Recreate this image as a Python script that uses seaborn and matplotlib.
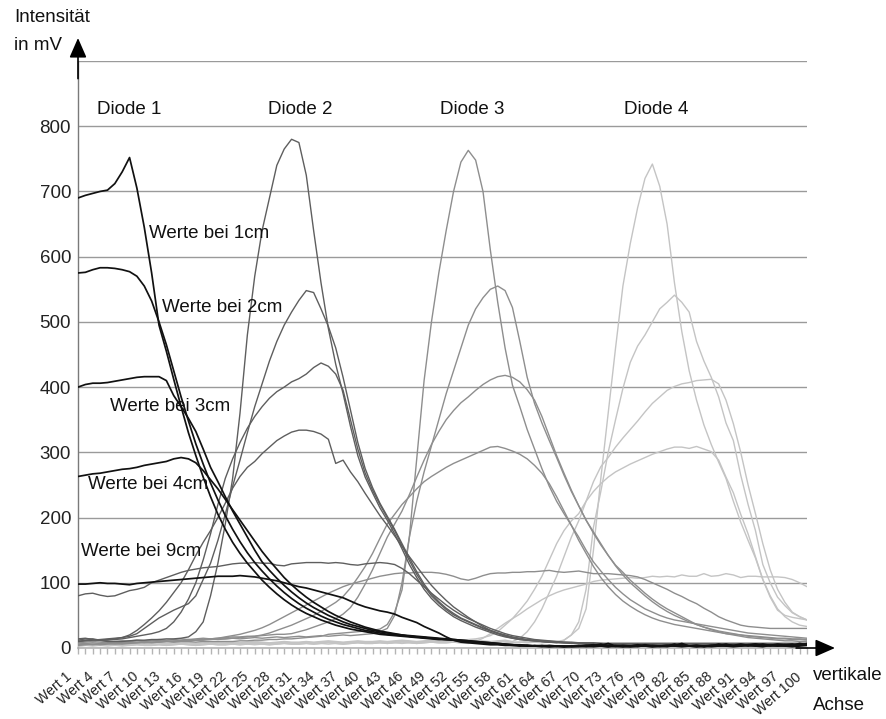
import matplotlib
matplotlib.use("Agg")
import matplotlib.pyplot as plt
import matplotlib.transforms as mtransforms
import pandas as pd
import seaborn as sns

# ---------------- data ----------------
categories = [f"Wert {k}" for k in range(1, 101)]
tick_labels = categories[::3]           # Wert 1, Wert 4, ... Wert 100
y_ticks = [0, 100, 200, 300, 400, 500, 600, 700, 800, 900]
y_tick_labels = ["0", "100", "200", "300", "400", "500", "600", "700", "800", ""]
diodes = ["Diode 1", "Diode 2", "Diode 3", "Diode 4"]
distances = ["1cm", "2cm", "3cm", "4cm", "9cm"]

# Diode 1 (black)
d1_1cm = [690, 694, 697, 700, 702, 712, 730, 752, 705, 645,
          575, 495, 455, 412, 370, 330, 295, 262, 232, 205,
          182, 162, 145, 130, 117, 104, 93, 83, 74, 66,
          59, 53, 48, 43, 39, 35, 32, 29, 27, 25,
          23, 21, 20, 19, 18, 17, 16, 15, 14, 13,
          13, 12, 11, 10, 9, 8, 7, 6, 5, 4,
          4, 3, 3, 4, 3, 2, 3, 2, 2, 3,
          4, 6, 3, 2, 3, 2, 3, 5, 3, 2,
          3, 6, 3, 3, 2, 3, 4, 3, 5, 4,
          3, 5, 6, 4, 3, 4, 5, 4, 6, 5]
d1_2cm = [575, 576, 580, 583, 583, 582, 580, 577, 570, 555,
          532, 500, 465, 425, 385, 348, 313, 282, 253, 227,
          203, 182, 163, 146, 131, 118, 106, 95, 85, 76,
          68, 61, 55, 49, 44, 40, 36, 33, 30, 27,
          25, 23, 21, 20, 19, 18, 17, 16, 15, 14,
          13, 12, 11, 10, 9, 8, 7, 6, 5, 5,
          4, 3, 4, 3, 2, 3, 2, 3, 3, 2,
          3, 4, 7, 3, 2, 3, 4, 3, 2, 3,
          4, 3, 5, 3, 2, 3, 3, 4, 6, 3,
          4, 3, 5, 6, 4, 3, 5, 6, 4, 7]
d1_3cm = [400, 404, 406, 406, 407, 409, 411, 413, 415, 416,
          416, 416, 410, 387, 370, 352, 332, 305, 277, 255,
          232, 210, 190, 170, 150, 132, 119, 107, 96, 86,
          77, 69, 62, 56, 50, 45, 40, 36, 33, 30,
          27, 25, 23, 21, 20, 18, 17, 16, 15, 14,
          13, 13, 12, 11, 10, 9, 8, 7, 6, 5,
          4, 4, 3, 3, 2, 3, 3, 2, 3, 4,
          5, 3, 2, 3, 4, 3, 2, 4, 3, 3,
          2, 4, 7, 3, 3, 2, 4, 5, 3, 4,
          6, 4, 3, 5, 4, 6, 5, 3, 5, 6]
d1_4cm = [263, 265, 267, 268, 270, 272, 274, 275, 277, 280,
          282, 284, 286, 290, 292, 290, 284, 272, 258, 244,
          228, 212, 196, 180, 164, 148, 134, 121, 108, 97,
          87, 78, 70, 63, 56, 50, 45, 40, 36, 32,
          29, 26, 24, 22, 20, 19, 18, 17, 16, 15,
          14, 13, 12, 11, 10, 9, 8, 7, 6, 5,
          5, 4, 3, 3, 4, 3, 2, 3, 4, 3,
          2, 3, 4, 3, 2, 3, 5, 3, 4, 3,
          3, 5, 4, 3, 4, 2, 3, 6, 4, 3,
          5, 4, 6, 3, 4, 5, 3, 4, 7, 5]
d1_9cm = [98, 98, 99, 100, 99, 99, 98, 97, 99, 100,
          101, 102, 103, 104, 105, 106, 107, 108, 109, 110,
          110, 110, 111, 110, 109, 107, 105, 103, 100, 97,
          94, 92, 89, 86, 83, 80, 77, 72, 67, 63,
          60, 57, 55, 52, 47, 43, 39, 33, 28, 23,
          17, 12, 9, 8, 7, 6, 5, 5, 4, 4,
          3, 4, 3, 2, 3, 3, 2, 3, 3, 4,
          3, 3, 2, 4, 3, 2, 3, 3, 2, 3,
          4, 3, 2, 3, 4, 3, 2, 3, 3, 2,
          3, 4, 3, 2, 4, 3, 3, 2, 3, 4]

# Diode 2 (dark grey)
d2_1cm = [12, 14, 14, 12, 10, 10, 10, 11, 12, 12,
          13, 13, 14, 14, 15, 17, 25, 40, 80, 130,
          190, 260, 360, 480, 570, 640, 690, 740, 765, 780,
          775, 725, 640, 560, 490, 435, 390, 340, 295, 262,
          238, 215, 196, 175, 152, 128, 108, 90, 76, 65,
          56, 48, 42, 37, 32, 28, 24, 20, 17, 15,
          13, 12, 11, 10, 9, 9, 8, 8, 7, 7,
          7, 6, 6, 6, 6, 5, 5, 5, 5, 5,
          5, 5, 5, 5, 4, 4, 4, 4, 4, 4,
          4, 4, 4, 4, 4, 4, 4, 4, 4, 4]
d2_2cm = [10, 12, 13, 12, 13, 14, 16, 18, 22, 30,
          38, 46, 52, 58, 63, 68, 80, 105, 130, 165,
          205, 248, 288, 330, 370, 405, 440, 470, 495, 515,
          533, 548, 545, 520, 493, 460, 415, 365, 315, 275,
          246, 222, 202, 182, 160, 138, 117, 98, 83, 71,
          61, 53, 46, 41, 36, 31, 27, 23, 19, 16,
          14, 12, 11, 10, 9, 9, 8, 8, 7, 7,
          7, 7, 6, 6, 6, 6, 6, 5, 5, 5,
          5, 5, 5, 5, 5, 5, 5, 5, 5, 5,
          5, 5, 5, 5, 5, 5, 5, 5, 5, 5]
d2_3cm = [14, 15, 13, 12, 12, 13, 14, 16, 18, 20,
          22, 25, 30, 40, 55, 75, 100, 135, 175, 220,
          260, 290, 315, 337, 355, 370, 383, 393, 400, 408,
          413, 420, 430, 437, 432, 420, 395, 350, 305, 268,
          242, 220, 200, 180, 157, 134, 113, 95, 80, 69,
          59, 51, 45, 40, 35, 30, 26, 22, 18, 15,
          13, 12, 11, 10, 9, 8, 8, 7, 7, 6,
          6, 6, 6, 6, 6, 6, 6, 6, 6, 6,
          6, 6, 6, 6, 6, 6, 6, 6, 6, 6,
          6, 6, 6, 6, 6, 6, 6, 6, 6, 6]
d2_4cm = [10, 11, 12, 13, 14, 15, 16, 20, 27, 36,
          46, 57, 70, 85, 100, 120, 142, 162, 180, 200,
          222, 245, 263, 277, 286, 298, 308, 318, 325, 331,
          334, 334, 332, 328, 320, 283, 288, 270, 255, 237,
          220, 203, 188, 172, 156, 140, 125, 110, 96, 84,
          73, 63, 55, 47, 40, 33, 27, 23, 20, 17,
          15, 13, 12, 11, 10, 9, 9, 8, 8, 7,
          7, 7, 7, 7, 7, 7, 7, 7, 7, 7,
          7, 7, 7, 7, 7, 7, 7, 7, 7, 7,
          7, 7, 7, 7, 7, 7, 7, 7, 7, 7]
d2_9cm = [80, 83, 84, 81, 79, 80, 84, 88, 90, 93,
          100, 104, 108, 112, 116, 119, 121, 123, 124, 125,
          127, 129, 130, 130, 131, 130, 130, 127, 126, 129,
          130, 131, 131, 131, 130, 131, 130, 128, 127, 129,
          130, 131, 130, 128, 122, 114, 104, 94, 84, 75,
          66, 58, 51, 45, 40, 35, 30, 26, 22, 19,
          17, 15, 13, 12, 11, 10, 9, 9, 8, 8,
          8, 7, 7, 7, 7, 7, 7, 7, 7, 7,
          7, 7, 7, 7, 7, 7, 7, 7, 7, 7,
          7, 7, 7, 7, 7, 7, 7, 7, 7, 7]

# Diode 3 (medium grey)
d3_1cm = [6, 7, 8, 7, 8, 9, 8, 9, 9, 8,
          9, 9, 10, 9, 10, 10, 9, 10, 10, 10,
          10, 10, 11, 11, 12, 12, 13, 13, 14, 14,
          15, 16, 17, 18, 21, 22, 23, 24, 25, 26,
          27, 29, 36, 55, 89, 170, 290, 410, 500, 575,
          640, 700, 745, 763, 748, 700, 610, 530, 460, 403,
          370, 335, 305, 275, 248, 225, 206, 188, 170, 150,
          132, 118, 105, 93, 83, 74, 67, 60, 55, 50,
          46, 43, 41, 39, 37, 35, 33, 31, 29, 27,
          25, 23, 22, 21, 20, 19, 18, 17, 16, 15]
d3_2cm = [8, 9, 10, 9, 8, 10, 11, 10, 9, 10,
          11, 12, 11, 10, 12, 13, 12, 13, 14, 13,
          14, 15, 14, 15, 16, 15, 16, 17, 16, 17,
          18, 17, 18, 19, 18, 19, 20, 19, 20, 21,
          22, 25, 30, 50, 100, 170, 225, 270, 310, 350,
          390, 425, 460, 495, 520, 537, 550, 555, 548, 522,
          470, 415, 375, 345, 318, 292, 265, 240, 218, 196,
          176, 158, 142, 127, 116, 104, 94, 84, 75, 67,
          60, 54, 48, 42, 36, 32, 28, 25, 22, 20,
          18, 16, 15, 14, 13, 12, 11, 11, 10, 10]
d3_3cm = [10, 11, 12, 11, 10, 9, 10, 11, 12, 11,
          12, 13, 12, 13, 14, 13, 14, 15, 14, 15,
          16, 17, 17, 18, 18, 19, 20, 21, 21, 22,
          25, 28, 32, 36, 40, 45, 52, 62, 78, 98,
          120, 145, 170, 190, 210, 235, 262, 288, 312, 332,
          350, 364, 376, 385, 395, 404, 411, 416, 418, 415,
          408, 396, 380, 355, 325, 295, 268, 242, 218, 196,
          178, 160, 142, 126, 112, 100, 90, 80, 71, 63,
          56, 50, 45, 40, 36, 32, 29, 26, 24, 22,
          20, 18, 17, 16, 15, 14, 14, 13, 13, 12]
d3_4cm = [4, 5, 6, 5, 6, 7, 6, 7, 8, 9,
          8, 9, 10, 10, 11, 11, 12, 12, 13, 14,
          14, 15, 16, 17, 18, 20, 23, 27, 31, 35,
          40, 45, 50, 56, 63, 70, 79, 92, 108, 125,
          145, 168, 190, 205, 220, 232, 244, 255, 263, 270,
          277, 283, 288, 293, 298, 303, 308, 309, 306, 302,
          297, 290, 280, 268, 252, 232, 210, 188, 165, 145,
          125, 108, 94, 82, 72, 64, 57, 51, 46, 42,
          39, 36, 34, 32, 30, 28, 26, 24, 22, 21,
          20, 19, 18, 17, 16, 15, 15, 14, 14, 13]
d3_9cm = [5, 6, 5, 6, 7, 6, 7, 8, 8, 9,
          9, 10, 10, 11, 11, 12, 12, 13, 14, 15,
          17, 19, 21, 24, 27, 31, 36, 42, 48, 54,
          60, 66, 72, 78, 84, 89, 94, 98, 101, 104,
          107, 110, 112, 114, 115, 115, 116, 116, 116, 115,
          113, 110, 106, 104, 107, 111, 114, 115, 115, 116,
          116, 117, 117, 118, 119, 117, 116, 117, 118, 116,
          114, 114, 114, 113, 112, 111, 109, 105, 100, 95,
          90, 84, 79, 73, 68, 61, 55, 48, 43, 39,
          35, 33, 32, 31, 30, 30, 30, 30, 30, 30]

# Diode 4 (light grey)
d4_1cm = [4, 5, 4, 5, 6, 5, 4, 5, 6, 5,
          5, 6, 5, 6, 7, 6, 5, 6, 7, 6,
          6, 7, 6, 7, 8, 7, 6, 7, 8, 7,
          7, 8, 7, 8, 9, 8, 7, 8, 9, 8,
          8, 9, 8, 9, 10, 9, 8, 9, 10, 9,
          9, 10, 9, 10, 9, 8, 9, 10, 9, 8,
          9, 8, 9, 8, 9, 8, 12, 20, 30, 60,
          150, 260, 360, 460, 555, 620, 675, 720, 742, 708,
          650, 560, 485, 425, 380, 342, 312, 285, 260, 225,
          193, 165, 138, 105, 78, 58, 50, 47, 45, 43]
d4_2cm = [3, 4, 5, 4, 3, 4, 5, 4, 5, 4,
          4, 5, 4, 5, 6, 5, 4, 5, 6, 5,
          5, 6, 5, 6, 7, 6, 5, 6, 7, 6,
          6, 7, 6, 7, 8, 7, 6, 7, 8, 7,
          7, 8, 7, 8, 9, 8, 7, 8, 9, 8,
          8, 9, 8, 9, 10, 9, 8, 9, 10, 9,
          9, 10, 9, 10, 11, 10, 12, 20, 40, 90,
          185, 240, 300, 350, 398, 438, 463, 480, 500, 520,
          530, 541, 530, 515, 470, 440, 415, 385, 345, 318,
          265, 220, 180, 128, 100, 78, 65, 54, 48, 43]
d4_3cm = [5, 6, 5, 4, 5, 6, 5, 6, 7, 6,
          5, 6, 7, 6, 7, 8, 7, 6, 7, 8,
          7, 8, 7, 8, 9, 8, 7, 8, 9, 8,
          8, 9, 8, 9, 10, 9, 8, 9, 10, 9,
          9, 10, 9, 10, 11, 10, 9, 10, 11, 10,
          10, 11, 10, 11, 12, 11, 10, 11, 12, 10,
          15, 25, 40, 60, 85, 110, 140, 170, 195, 225,
          255, 278, 292, 308, 322, 335, 348, 362, 375, 385,
          395, 401, 405, 407, 410, 411, 412, 405, 380, 344,
          300, 250, 206, 160, 120, 90, 70, 55, 48, 43]
d4_4cm = [6, 7, 6, 7, 8, 7, 6, 7, 8, 7,
          7, 8, 7, 8, 9, 8, 7, 8, 9, 8,
          8, 9, 8, 9, 10, 9, 8, 9, 10, 9,
          9, 10, 9, 10, 11, 10, 9, 10, 11, 10,
          10, 11, 10, 11, 12, 11, 10, 11, 12, 11,
          11, 12, 12, 13, 14, 16, 19, 25, 35, 45,
          58, 72, 90, 110, 135, 160, 180, 195, 206, 225,
          240, 252, 262, 270, 276, 282, 287, 292, 297, 301,
          305, 308, 308, 306, 309, 305, 301, 288, 262, 238,
          205, 175, 140, 105, 80, 60, 48, 40, 35, 33]
d4_9cm = [3, 4, 3, 4, 5, 4, 3, 4, 5, 4,
          4, 5, 4, 5, 6, 5, 4, 5, 6, 5,
          5, 6, 5, 6, 5, 6, 5, 6, 7, 6,
          6, 7, 6, 7, 6, 7, 6, 7, 8, 7,
          7, 8, 7, 8, 7, 8, 7, 8, 9, 8,
          8, 9, 8, 7, 10, 15, 22, 30, 38, 45,
          52, 60, 67, 74, 80, 85, 89, 92, 95, 98,
          102, 104, 105, 106, 107, 108, 107, 108, 110, 109,
          110, 109, 112, 110, 110, 114, 110, 111, 114, 112,
          108, 110, 110, 109, 109, 109, 108, 105, 100, 94]

series = {
    "Diode 1": [d1_1cm, d1_2cm, d1_3cm, d1_4cm, d1_9cm],
    "Diode 2": [d2_1cm, d2_2cm, d2_3cm, d2_4cm, d2_9cm],
    "Diode 3": [d3_1cm, d3_2cm, d3_3cm, d3_4cm, d3_9cm],
    "Diode 4": [d4_1cm, d4_2cm, d4_3cm, d4_4cm, d4_9cm],
}

rows = []
for diode, lists in series.items():
    for dist, vals in zip(distances, lists):
        assert len(vals) == len(categories), (diode, dist, len(vals))
        for pos, (cat, v) in enumerate(zip(categories, vals)):
            rows.append({"pos": pos, "Wert": cat, "mV": v,
                         "Diode": diode, "Abstand": dist})
df = pd.DataFrame(rows)

# ---------------- style ----------------
sns.set_theme(style="white")
plt.rcParams["font.family"] = ["Liberation Sans", "DejaVu Sans"]

colors = {"Diode 1": "#111111", "Diode 2": "#5e5e5e",
          "Diode 3": "#8e8e8e", "Diode 4": "#c4c4c4"}
widths = {"Diode 1": 1.25, "Diode 2": 1.0, "Diode 3": 1.0, "Diode 4": 1.0}

W, H = 887, 719
fig = plt.figure(figsize=(W / 100, H / 100), dpi=100)
ax = fig.add_axes([78 / W, 1 - 648 / H, 729 / W, 587 / H])

for diode in reversed(diodes):
    sub = df[df["Diode"] == diode]
    sns.lineplot(data=sub, x="pos", y="mV", units="Abstand", estimator=None,
                 sort=False, color=colors[diode], linewidth=widths[diode],
                 legend=False, ax=ax, zorder=3)

ax.set_xlim(0, len(categories) - 1)
ax.set_ylim(0, 900)
ax.set_xlabel("")
ax.set_ylabel("")

# grid & spines
ax.set_yticks(y_ticks)
ax.set_yticklabels(y_tick_labels, fontsize=13.5, color="#222222")
ax.yaxis.grid(True, color="#9a9a9a", linewidth=1.0, zorder=1)
ax.xaxis.grid(False)
ax.tick_params(axis="y", length=0, pad=5)
for s in ("top", "right"):
    ax.spines[s].set_visible(False)
ax.spines["left"].set_color("#7a7a7a")
ax.spines["left"].set_linewidth(1.0)
ax.spines["bottom"].set_color("#b4b4b4")
ax.spines["bottom"].set_linewidth(1.2)

# x ticks
ax.set_xticks(list(range(0, len(categories), 3)))
ax.set_xticks(list(range(len(categories))), minor=True)
ax.set_xticklabels(tick_labels, fontsize=10.2, rotation=41, ha="right",
                   va="center", rotation_mode="anchor", color="#222222")
ax.tick_params(axis="x", which="both", length=4, width=1.0,
               color="#b4b4b4", direction="out", pad=0, bottom=True)
offset = mtransforms.ScaledTranslation(-0.08, -0.215, fig.dpi_scale_trans)
for lab in ax.get_xticklabels():
    lab.set_transform(lab.get_transform() + offset)

# axis arrows
arrow_kw = dict(arrowstyle="-|>,head_length=0.8,head_width=0.35",
                color="black", lw=1.2, mutation_scale=15, shrinkA=0, shrinkB=0)
ax.annotate("", xy=(0, (648 - 38) / 587), xycoords="axes fraction",
            xytext=(0, 0.97), textcoords="axes fraction",
            arrowprops=arrow_kw, annotation_clip=False)
ax.annotate("", xy=((835 - 78) / 729, 0), xycoords="axes fraction",
            xytext=(0.985, 0), textcoords="axes fraction",
            arrowprops=arrow_kw, annotation_clip=False)

# annotations
fs = 13.5
for name, xpos in zip(diodes, [2.6, 25.8, 49.1, 74.2]):
    ax.text(xpos, 826, name, fontsize=fs, ha="left", va="center", color="#111111")
ax.text(9.7, 635, "Werte bei 1cm", fontsize=fs, ha="left", va="center", color="#111111")
ax.text(11.4, 522, "Werte bei 2cm", fontsize=fs, ha="left", va="center", color="#111111")
ax.text(4.4, 370, "Werte bei 3cm", fontsize=fs, ha="left", va="center", color="#111111")
ax.text(1.4, 250, "Werte bei 4cm", fontsize=fs, ha="left", va="center", color="#111111")
ax.text(0.4, 148, "Werte bei 9cm", fontsize=fs, ha="left", va="center", color="#111111")

fig.text(14 / W, 1 - 18 / H, "Intensität", fontsize=fs, ha="left", va="center", color="#111111")
fig.text(14 / W, 1 - 45 / H, "in mV", fontsize=fs, ha="left", va="center", color="#111111")
fig.text(813 / W, 1 - 676 / H, "vertikale", fontsize=fs, ha="left", va="center", color="#111111")
fig.text(813 / W, 1 - 705 / H, "Achse", fontsize=fs, ha="left", va="center", color="#111111")

fig.savefig("out.png", dpi=100)
